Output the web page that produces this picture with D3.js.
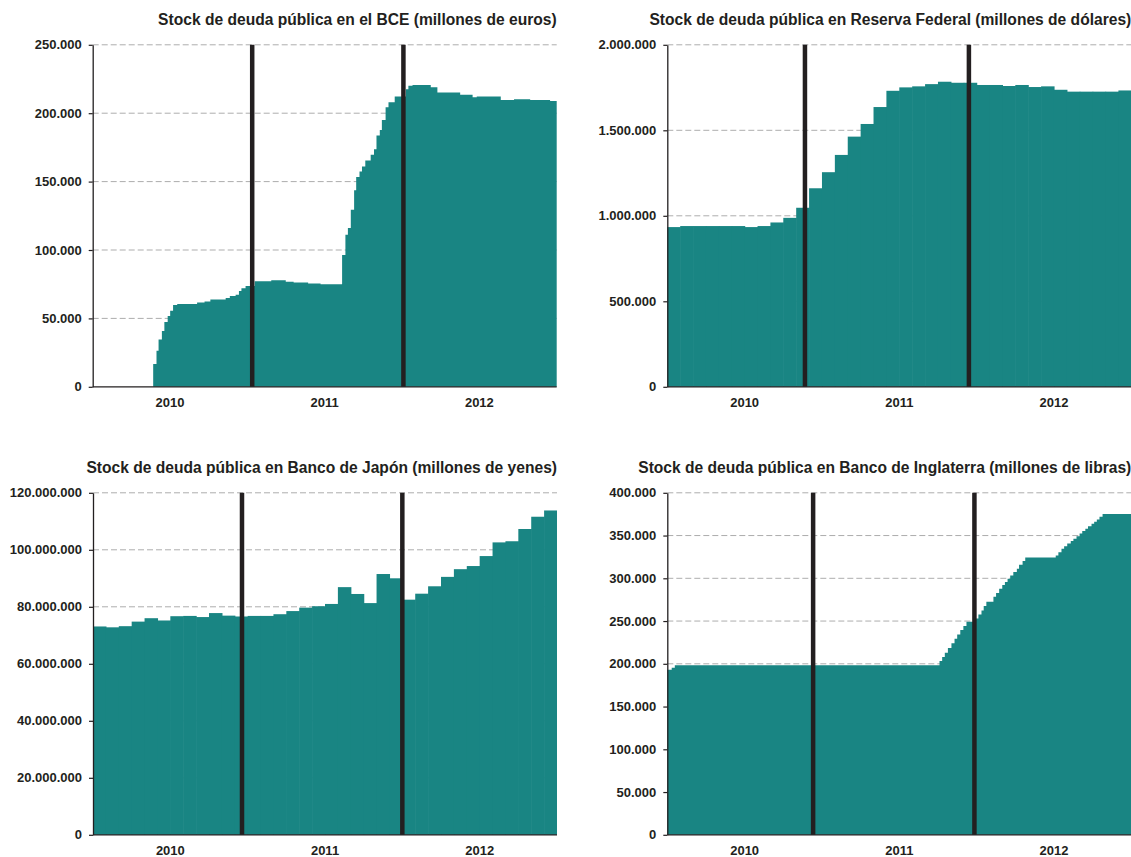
<!DOCTYPE html>
<html>
<head>
<meta charset="utf-8">
<script src="https://cdn.jsdelivr.net/npm/d3@7"></script>
<style>
  body { margin: 0; background: #fff; }
  svg text { font-family: "Liberation Sans", Arial, sans-serif; font-weight: bold; fill: #231f20; }
</style>
</head>
<body>
<div id="chart"></div>
<script>
// años del eje x
const years = ["2010", "2011", "2012"];

// BCE: cambios semanales (fecha del cambio, stock en millones de euros)
const bceDates = ["2010-05-07","2010-05-15","2010-05-20","2010-05-28","2010-06-03","2010-06-11","2010-06-17","2010-06-24",
  "2010-07-04","2010-08-21","2010-09-08","2010-09-22","2010-10-29","2010-11-08","2010-11-22","2010-11-30","2010-12-06",
  "2010-12-16","2011-01-07","2011-02-16","2011-03-23","2011-04-11","2011-05-16","2011-06-15","2011-08-06","2011-08-14",
  "2011-08-20","2011-08-27","2011-09-04","2011-09-09","2011-09-17","2011-09-23","2011-10-01","2011-10-14","2011-10-22",
  "2011-10-28","2011-11-05","2011-11-10","2011-11-19","2011-11-26","2011-12-11","2012-01-07","2012-01-13","2012-01-23",
  "2012-03-07","2012-03-23","2012-05-17","2012-06-16","2012-06-26","2012-08-23","2012-09-24","2012-11-02","2012-12-20"];
const bceValues = [16600, 26300, 34600, 40700, 47300, 51700, 55600, 59800,
  60500, 61700, 62400, 63900, 64900, 66300, 67300, 70000, 72000,
  73700, 77100, 77800, 76800, 76300, 75600, 74900, 96400, 111200,
  116100, 129400, 143600, 153300, 157400, 161100, 165500, 169600, 173700,
  183700, 187800, 195100, 204400, 208000, 212200, 217500, 220000, 220700,
  219000, 215100, 213400, 211700, 212200, 209700, 210200, 209700, 209000];
const bceTicks = [0, 50000, 100000, 150000, 200000, 250000];

// Reserva Federal: barras mensuales (millones de dólares)
const fedValues = [934000, 940000, 940000, 940000, 940000, 940000, 934000, 940000, 961000, 988000,
  1047000, 1161000, 1255000, 1356000, 1463000, 1537000, 1636000, 1731000, 1751000, 1757000,
  1770000, 1784000, 1778000, 1778000, 1765000, 1765000, 1759000, 1765000, 1753000, 1757000,
  1737000, 1726000, 1726000, 1726000, 1726000, 1733000];
const fedYearMarks = [10.68, 23.4]; // posición del 1 de enero (en barras)
const fedTicks = [0, 500000, 1000000, 1500000, 2000000];

// Banco de Japón: barras mensuales (millones de yenes)
const japanValues = [73100000, 72800000, 73200000, 74800000, 76000000, 75200000, 76700000, 76800000, 76400000,
  77800000, 76900000, 76600000, 76800000, 76800000, 77400000, 78500000, 79700000, 80200000, 81000000,
  86900000, 84500000, 81300000, 91500000, 90000000, 82500000, 84600000, 87200000, 90500000, 93200000,
  94300000, 97800000, 102600000, 103000000, 107300000, 111600000, 113800000];
const japanYearMarks = [11.56, 24.0];
const japanTicks = [0, 20000000, 40000000, 60000000, 80000000, 100000000, 120000000];

// Banco de Inglaterra: cambios semanales (millones de libras)
const boeDates = ["2010-02-05","2010-02-15","2010-02-22","2011-10-14","2011-10-20","2011-10-26","2011-11-02","2011-11-10",
  "2011-11-17","2011-11-23","2011-11-30","2011-12-07","2011-12-14","2012-01-04","2012-01-10","2012-01-17","2012-01-22",
  "2012-01-28","2012-02-13","2012-02-19","2012-02-26","2012-03-04","2012-03-10","2012-03-16","2012-03-22","2012-03-29",
  "2012-04-06","2012-04-11","2012-04-19","2012-04-25","2012-07-03","2012-07-09","2012-07-16","2012-07-22","2012-07-29",
  "2012-08-06","2012-08-12","2012-08-19","2012-08-26","2012-09-01","2012-09-08","2012-09-14","2012-09-22","2012-09-28",
  "2012-10-04","2012-10-10","2012-10-17"];
const boeValues = [193000, 195500, 198300, 203200, 207900, 212900, 218400, 223900,
  229300, 234400, 239400, 244100, 249200, 253100, 257800, 262400, 267500,
  272600, 278400, 282700, 287800, 292100, 295600, 299500, 303400, 307300,
  311200, 315800, 320100, 324400, 326700, 330600, 334500, 337600, 340800,
  343500, 346200, 349300, 352500, 355200, 357900, 361000, 363800, 366100,
  368800, 371900, 375100];
const boeTicks = [0, 50000, 100000, 150000, 200000, 250000, 300000, 350000, 400000];

const yearStarts = ["2011-01-01", "2012-01-01"];

const width = 1131, height = 857;
const pw = 464, ph = 342;
const teal = "#198583", ink = "#231f20";

const parse = d3.timeParse("%Y-%m-%d");
const es = d3.formatLocale({ decimal: ",", thousands: ".", grouping: [3], currency: ["", "€"] });
const fmt = es.format(",d");

const svg = d3.select("#chart").append("svg")
  .attr("width", width)
  .attr("height", height);

const panels = [
  { title: "Stock de deuda pública en el BCE (millones de euros)", left: 92.7, top: 44.8,
    kind: "time", domain: ["2009-12-12", "2013-01-05"], dates: bceDates, values: bceValues, ticks: bceTicks },
  { title: "Stock de deuda pública en Reserva Federal (millones de dólares)", left: 667.3, top: 44.8,
    kind: "bars", values: fedValues, marks: fedYearMarks, ticks: fedTicks },
  { title: "Stock de deuda pública en Banco de Japón (millones de yenes)", left: 93, top: 492.8,
    kind: "bars", values: japanValues, marks: japanYearMarks, ticks: japanTicks },
  { title: "Stock de deuda pública en Banco de Inglaterra (millones de libras)", left: 667.3, top: 492.8,
    kind: "time", domain: ["2010-02-05", "2012-12-21"], dates: boeDates, values: boeValues, ticks: boeTicks }
];

panels.forEach(drawPanel);

function drawPanel(p) {
  const g = svg.append("g").attr("transform", `translate(${p.left},${p.top})`);

  const y = d3.scaleLinear()
    .domain([0, d3.max(p.ticks)])
    .range([ph, 0]);

  // lineas de cuadricula
  g.append("g")
    .selectAll("line")
    .data(p.ticks.filter(t => t > 0))
    .join("line")
    .attr("x1", 0)
    .attr("x2", pw)
    .attr("y1", d => y(d))
    .attr("y2", d => y(d))
    .attr("stroke", "#adadad")
    .attr("stroke-width", 1)
    .attr("stroke-dasharray", "6,3");

  let x, marks;
  if (p.kind === "time") {
    x = d3.scaleTime().domain(p.domain.map(parse)).range([0, pw]);
    const pts = [{ d: x.domain()[0], v: 0 }]
      .concat(p.dates.map((d, i) => ({ d: parse(d), v: p.values[i] })));
    pts.push({ d: x.domain()[1], v: p.values[p.values.length - 1] });
    const area = d3.area()
      .x(d => x(d.d))
      .y0(ph)
      .y1(d => y(d.v))
      .curve(d3.curveStepAfter);
    g.append("path")
      .datum(pts)
      .attr("d", area)
      .attr("fill", teal);
    marks = yearStarts.map(s => x(parse(s)));
  } else {
    x = d3.scaleLinear().domain([0, p.values.length]).range([0, pw]);
    const n = p.values.length;
    g.append("g")
      .selectAll("rect")
      .data(p.values)
      .join("rect")
      .attr("x", (d, i) => x(i))
      // ligero solape para evitar costuras entre barras
      .attr("width", (d, i) => x(i + 1) - x(i) + (i < n - 1 ? 0.6 : 0))
      .attr("y", d => y(d))
      .attr("height", d => ph - y(d))
      .attr("fill", teal);
    marks = p.marks.map(m => x(m));
  }

  // eje x (linea base)
  g.append("line")
    .attr("x1", 0).attr("x2", pw)
    .attr("y1", ph).attr("y2", ph)
    .attr("stroke", ink)
    .attr("stroke-width", 1.2);

  // separacion de años
  g.append("g")
    .selectAll("line")
    .data(marks)
    .join("line")
    .attr("x1", d => d).attr("x2", d => d)
    .attr("y1", 0).attr("y2", ph)
    .attr("stroke", ink)
    .attr("stroke-width", 4.5);

  // etiquetas de años
  const xb = d3.scaleBand().domain(years).range([0, pw]);
  const xAxis = g.append("g")
    .attr("transform", `translate(0,${ph})`)
    .call(d3.axisBottom(xb).tickSize(0).tickPadding(10.5));
  xAxis.select(".domain").remove();
  xAxis.selectAll("text").attr("font-size", 13).attr("font-family", null);

  // eje y
  const yAxis = g.append("g")
    .call(d3.axisLeft(y).tickValues(p.ticks).tickFormat(fmt).tickSize(4).tickSizeOuter(0).tickPadding(7));
  yAxis.select(".domain").attr("stroke", ink).attr("stroke-width", 1.3);
  yAxis.selectAll(".tick line").attr("stroke", ink).attr("stroke-width", 1.2);
  yAxis.selectAll("text").attr("font-size", 13).attr("font-family", null);

  // titulo
  g.append("text")
    .attr("x", pw)
    .attr("y", -20)
    .attr("text-anchor", "end")
    .attr("font-size", 15.6)
    .text(p.title);
}
</script>
</body>
</html>
